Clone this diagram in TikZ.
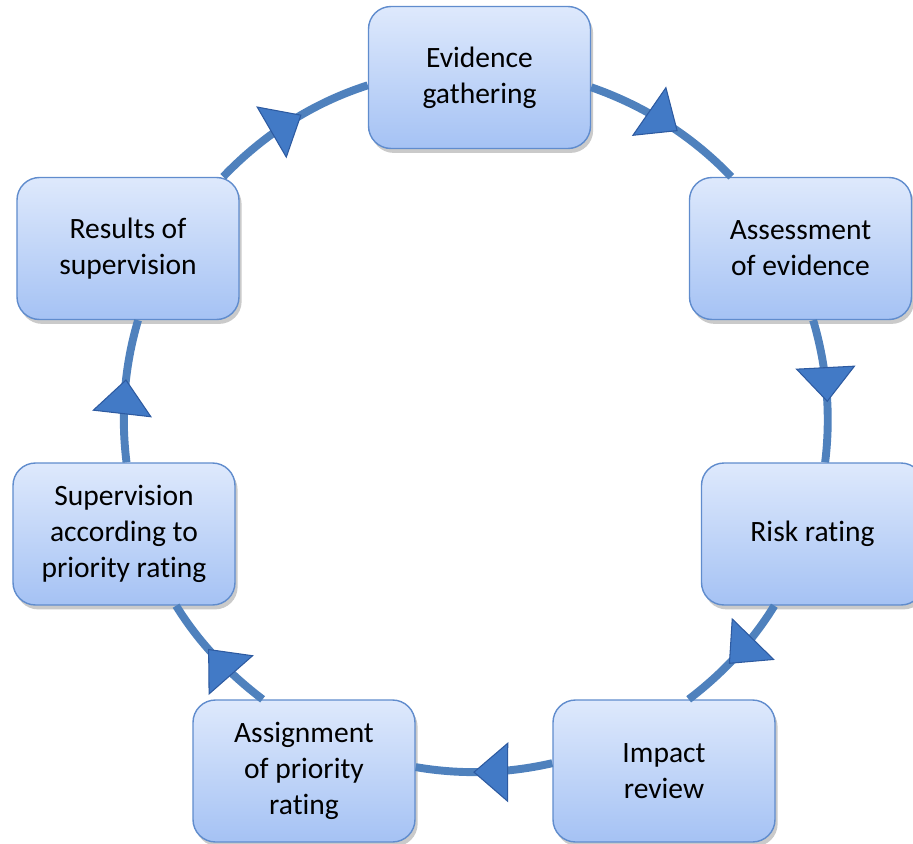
\documentclass[tikz,border=0pt]{standalone}
\usepackage{fontspec}
\setmainfont[Ligatures={NoCommon}]{Carlito}
\usetikzlibrary{arrows.meta,decorations.markings,shadows}

\definecolor{ringblue}{RGB}{79,129,189}
\definecolor{tipblue}{RGB}{66,122,198}
\definecolor{tipdark}{RGB}{45,90,160}
\definecolor{boxtop}{RGB}{222,233,252}
\definecolor{boxbottom}{RGB}{165,194,244}
\definecolor{boxline}{RGB}{96,140,205}

\tikzset{
	stage/.style={draw=boxline, line width=0.8pt, rounded corners=0.45cm,
		top color=boxtop, bottom color=boxbottom,
		minimum width=4.44cm, minimum height=2.84cm, align=center,
		font=\fontsize{16.8}{20.5}\selectfont,
		drop shadow={shadow xshift=1.5pt, shadow yshift=-2.5pt, opacity=0.35, fill=black!60}},
	link/.style={draw=ringblue, line width=4.5pt, looseness=0.87, postaction={decorate},
		decoration={markings, mark=at position 0.58 with
			{\arrow{Triangle[length=0.7cm, width=1.2cm, line width=0.6pt, color=tipdark, fill=tipblue]}}}}
}

\begin{document}
\begin{tikzpicture}
			%%%%% START %%%%%
			
			\useasboundingbox (0, 0) rectangle (18.26, -16.88);
			
			\node[stage] (ev) at (9.59, -1.55) {Evidence\\gathering};
			\node[stage] (as) at (16.01, -4.97) {Assessment\\of evidence};
			\node[stage] (ri) at (16.25, -10.68) {Risk rating};
			\node[stage] (im) at (13.28, -15.42) {Impact\\review};
			\node[stage] (ag) at (6.08, -15.42) {Assignment\\of priority\\rating};
			\node[stage] (su) at (2.48, -10.68) {Supervision\\according to\\priority rating};
			\node[stage] (re) at (2.56, -4.97) {Results of\\supervision};
			
			\draw[link] (ev.-5.2) to[out=-19.2, in=133.7] (as.134.7);
			\draw[link] (as.-80.5) to[out=-73.5, in=83] (ri.80.5);
			\draw[link] (ri.-118.2) to[out=-121.7, in=37.3] (im.71.1);
			\draw[link] (im.176) to[out=192.8, in=-9.8] (ag.2.1);
			\draw[link] (ag.120.8) to[out=142.7, in=-58.3] (su.-54);
			\draw[link] (su.88.7) to[out=97, in=-106.5] (re.-82.4);
			\draw[link] (re.37.8) to[out=46.3, in=-162.3] (ev.-176.3);
			
			%%%%% END %%%%%
\end{tikzpicture}
\end{document}
